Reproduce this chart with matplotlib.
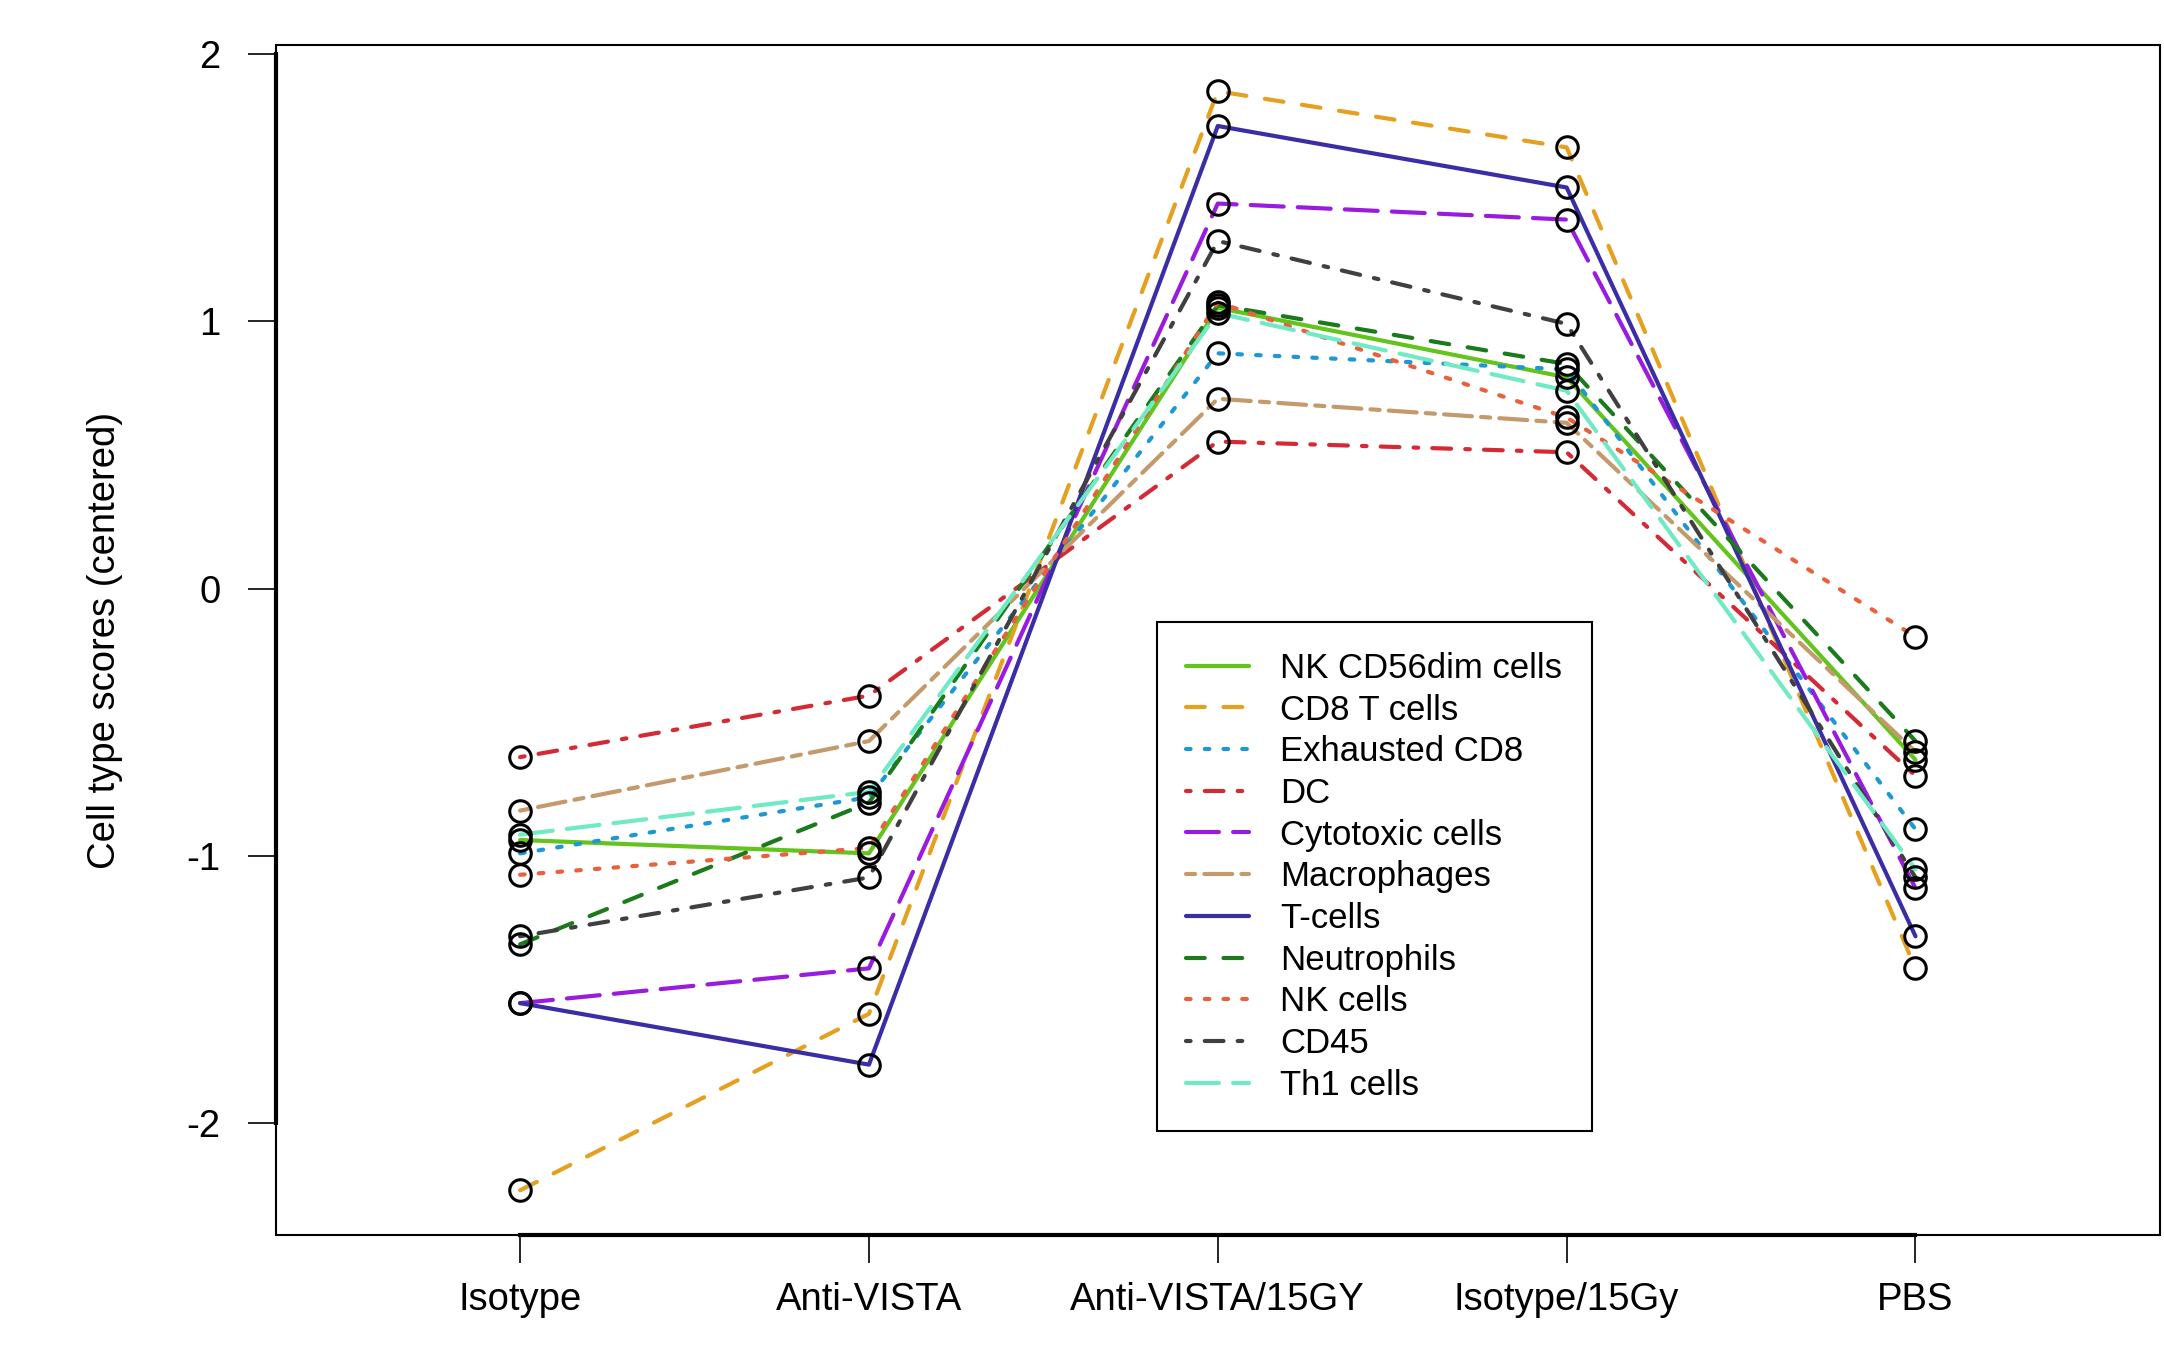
import matplotlib
matplotlib.use('Agg')
import matplotlib.pyplot as plt
from matplotlib.patches import Rectangle

plt.rcParams['font.family'] = ['Liberation Sans', 'DejaVu Sans']

groups = ['Isotype', 'Anti-VISTA', 'Anti-VISTA/15GY', 'Isotype/15Gy', 'PBS']

names = ['NK CD56dim cells', 'CD8 T cells', 'Exhausted CD8', 'DC',
         'Cytotoxic cells', 'Macrophages', 'T-cells', 'Neutrophils',
         'NK cells', 'CD45', 'Th1 cells']

nk_cd56dim = [-0.94, -0.99, 1.05, 0.79, -0.64]
cd8_t = [-2.25, -1.59, 1.86, 1.65, -1.42]
exhausted_cd8 = [-0.99, -0.78, 0.88, 0.82, -0.90]
dc = [-0.63, -0.40, 0.55, 0.51, -0.70]
cytotoxic = [-1.55, -1.42, 1.44, 1.38, -1.12]
macrophages = [-0.83, -0.57, 0.71, 0.62, -0.61]
t_cells = [-1.55, -1.78, 1.73, 1.50, -1.30]
neutrophils = [-1.33, -0.80, 1.06, 0.84, -0.57]
nk_cells = [-1.07, -0.97, 1.07, 0.64, -0.18]
cd45 = [-1.30, -1.08, 1.30, 0.99, -1.08]
th1 = [-0.92, -0.76, 1.03, 0.74, -1.05]

series = [nk_cd56dim, cd8_t, exhausted_cd8, dc, cytotoxic, macrophages,
          t_cells, neutrophils, nk_cells, cd45, th1]

colors = ['#62C41C', '#E6A020', '#1F97D4', '#D42A35', '#9A1BE0', '#C49A6C',
          '#3B2DA6', '#1B7A1B', '#E8603C', '#404040', '#6FEAC4']

# R line types, scaled to linewidth units
solid = (0, ())
dashed = (0, (4.5, 4.5))
dotted = (0, (1.1, 3.4))
dotdash = (0, (1.1, 3.4, 4.5, 3.4))
longdash = (0, (7.9, 3.4))
twodash = (0, (2.2, 2.2, 6.7, 2.2))
styles = [solid, dashed, dotted, dotdash, longdash, twodash,
          solid, dashed, dotted, dotdash, longdash]

x = list(range(1, len(groups) + 1))

fig = plt.figure(figsize=(21.64, 13.5), dpi=100)
ax = fig.add_axes([0.1275, 0.0852, 0.8705, 0.8811])

handles = []
for vals, name, col, ls in zip(series, names, colors, styles):
    h, = ax.plot(x, vals, color=col, lw=3.0, linestyle=ls,
                 dash_capstyle='round', solid_capstyle='round', label=name)
    handles.append(h)
for vals in series:
    ax.plot(x, vals, linestyle='none', marker='o', ms=15.5, mfc='none',
            mec='black', mew=2.2, zorder=3)

ax.set_xlim(0.30, 5.70)
ax.set_ylim(-2.417, 2.031)

ax.set_xticks(x)
ax.set_xticklabels(groups)
ax.set_yticks([-2, -1, 0, 1, 2])
ax.set_yticklabels(['-2', '-1', '0', '1', '2'])
ax.tick_params(axis='both', direction='out', length=20, width=1.2,
               labelsize=27.5, color='black')
ax.tick_params(axis='y', pad=20)
ax.tick_params(axis='x', pad=14)

# box plus R style axis lines
for s in ['top', 'right']:
    ax.spines[s].set_visible(False)
ax.spines['left'].set_bounds(-2, 2)
ax.spines['bottom'].set_bounds(1, 5)
ax.spines['left'].set_linewidth(3)
ax.spines['bottom'].set_linewidth(3)
ax.add_patch(Rectangle((0, 0), 1, 1, transform=ax.transAxes, fill=False,
                       edgecolor='black', lw=1.5, clip_on=False, zorder=5))

ax.set_ylabel('Cell type scores (centered)', fontsize=27.5)
ax.yaxis.set_label_coords(-0.081, 0.5)

leg = ax.legend(handles=handles, loc='upper left',
                bbox_to_anchor=(0.4676, 0.515), borderaxespad=0,
                fontsize=25, frameon=True, fancybox=False, framealpha=1,
                edgecolor='black', handlelength=1.8, handletextpad=0.9,
                labelspacing=0.25, borderpad=0.85)
leg.get_frame().set_linewidth(1.5)

fig.savefig('out.png', dpi=100)
